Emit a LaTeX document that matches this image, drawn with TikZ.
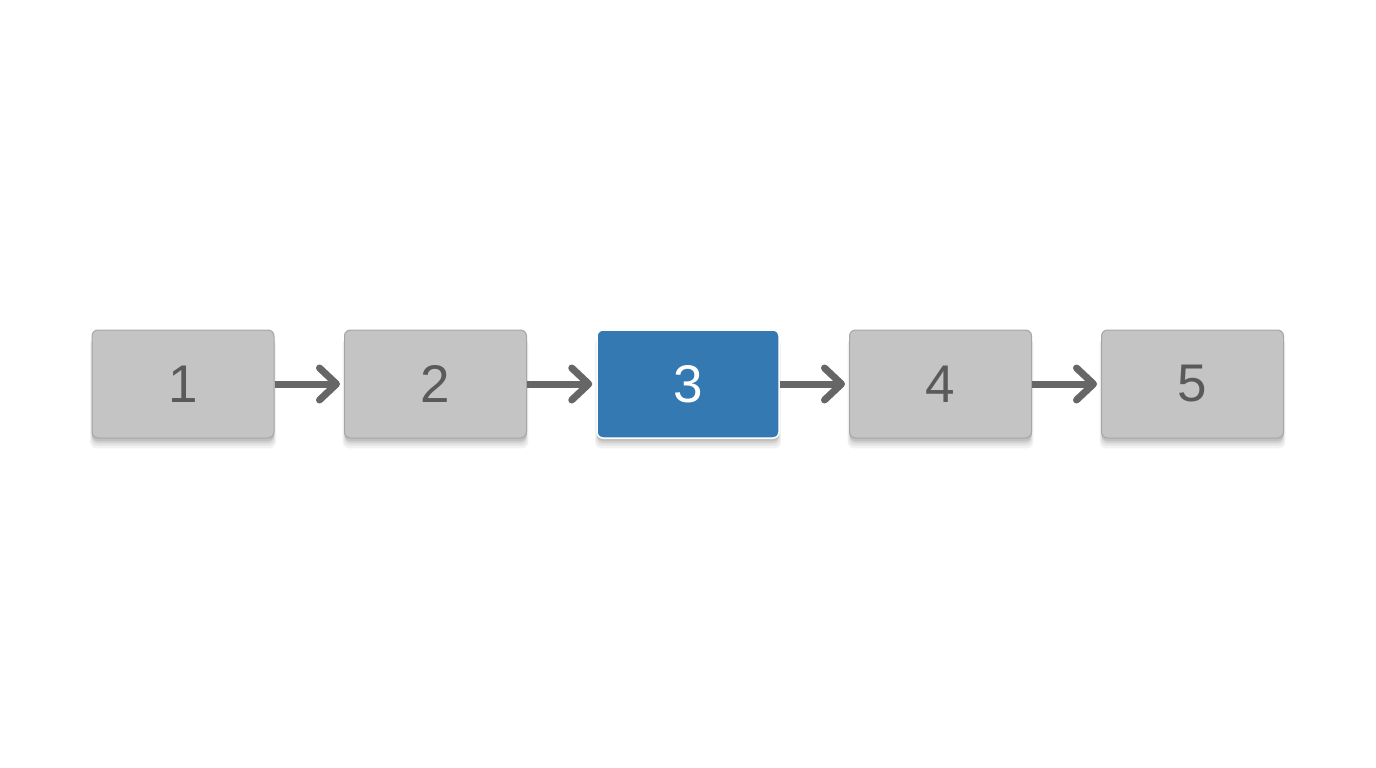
\documentclass[tikz,border=0pt]{standalone}
\usepackage{fontspec}
\setmainfont{Liberation Sans}
\usetikzlibrary{arrows.meta,shadows}
\definecolor{boxgray}{HTML}{C4C4C4}
\definecolor{boxedge}{HTML}{A6A6A6}
\definecolor{txtgray}{HTML}{5A5A5A}
\definecolor{arrgray}{HTML}{666666}
\definecolor{blue3}{HTML}{3479B1}
\tikzset{
  softshadow/.style={
    general shadow={fill=black, opacity=0.05, shadow xshift=0pt, shadow yshift=-9pt, shadow scale=1.02},
    general shadow={fill=black, opacity=0.06, shadow xshift=0pt, shadow yshift=-7pt, shadow scale=1.01},
    general shadow={fill=black, opacity=0.08, shadow xshift=0pt, shadow yshift=-5pt},
    general shadow={fill=black, opacity=0.08, shadow xshift=0pt, shadow yshift=-3pt}},
  stepbox/.style={rectangle, rounded corners=6pt, minimum width=182pt, minimum height=108pt,
    fill=boxgray, draw=boxedge, line width=1pt, text=txtgray,
    font=\fontsize{53}{53}\selectfont, softshadow},
  activebox/.style={stepbox, fill=blue3, draw=white, line width=1.5pt, text=white},
  flow/.style={draw=arrgray, line width=7pt, shorten >=4pt,
    -{Straight Barb[length=17pt, width=32pt, line width=7pt, round]}}
}
\begin{document}
\begin{tikzpicture}[x=1pt,y=-1pt]
\path[use as bounding box, fill=white] (0,0) rectangle (1376,768);
\node[stepbox] (n1) at (183,384) {1};
\node[stepbox] (n2) at (435.5,384) {2};
\node[activebox] (n3) at (688,384) {3};
\node[stepbox] (n4) at (940.5,384) {4};
\node[stepbox] (n5) at (1192.5,384) {5};
\draw[flow] (n1) -- (n2);
\draw[flow] (n2) -- (n3);
\draw[flow] (n3) -- (n4);
\draw[flow] (n4) -- (n5);
\end{tikzpicture}
\end{document}
